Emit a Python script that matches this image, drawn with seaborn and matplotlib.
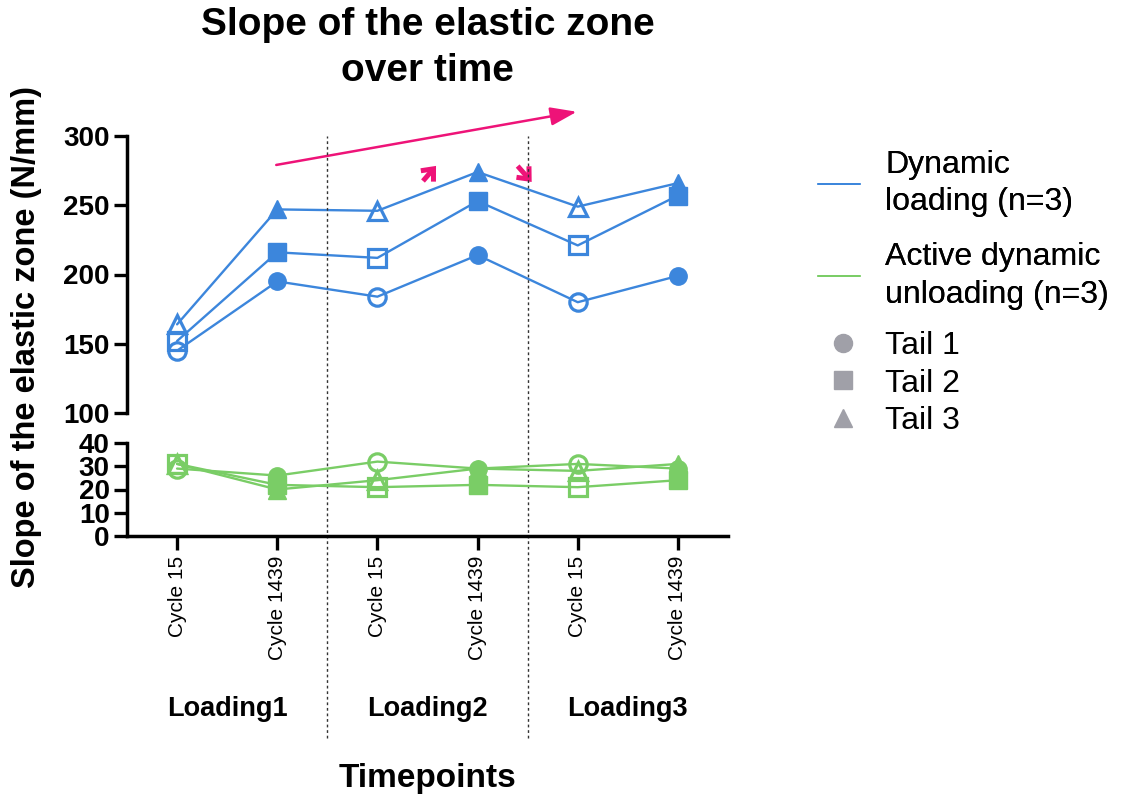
import numpy as np
import pandas as pd
import matplotlib
matplotlib.use("Agg")
import matplotlib.pyplot as plt
from matplotlib.lines import Line2D
from matplotlib.transforms import blended_transform_factory
import seaborn as sns

# ---- data -------------------------------------------------------------
timepoints = ["Cycle 15", "Cycle 1439", "Cycle 15", "Cycle 1439", "Cycle 15", "Cycle 1439"]
groups = ["Loading1", "Loading2", "Loading3"]
tails = ["Tail 1", "Tail 2", "Tail 3"]

# Dynamic loading (n=3), N/mm
dyn_tail1 = [145, 195, 184, 214, 180, 199]
dyn_tail2 = [152, 216, 212, 253, 221, 257]
dyn_tail3 = [164, 247, 246, 274, 249, 266]

# Active dynamic unloading (n=3), N/mm
act_tail1 = [29, 26, 32, 29, 31, 29]
act_tail2 = [31, 22, 21, 22, 21, 24]
act_tail3 = [31, 20, 24, 29, 28, 31]

# Cycle 15 points are drawn hollow, Cycle 1439 points filled
filled = [False, True, False, True, False, True]

BLUE = "#3C86DC"
GREEN = "#7ACD66"
PINK = "#EE1378"
GREY = "#A0A0A8"
MARKERS = {"Tail 1": "o", "Tail 2": "s", "Tail 3": "^"}


def long_frame(series):
    rows = []
    for tail, vals in zip(tails, series):
        for i, v in enumerate(vals):
            rows.append({"idx": i, "value": v, "tail": tail, "filled": filled[i]})
    return pd.DataFrame(rows)


df_dyn = long_frame([dyn_tail1, dyn_tail2, dyn_tail3])
df_act = long_frame([act_tail1, act_tail2, act_tail3])

# ---- style ------------------------------------------------------------
sns.set_theme(style="ticks")
plt.rcParams["font.family"] = ["Liberation Sans", "DejaVu Sans"]
for key in ("axes.edgecolor", "xtick.color", "ytick.color", "text.color",
            "axes.labelcolor", "xtick.labelcolor", "ytick.labelcolor"):
    plt.rcParams[key] = "black"

fig = plt.figure(figsize=(11.23, 7.98), dpi=100)
W, H = 1123, 798


def fx(px):
    return px / W


def fy(py):
    return 1 - py / H


ax_up = fig.add_axes([fx(127), fy(413), fx(728) - fx(127), fy(136) - fy(413)])
ax_lo = fig.add_axes([fx(127), fy(536), fx(728) - fx(127), fy(443) - fy(536)])


def draw_series(ax, df, color):
    sns.lineplot(data=df, x="idx", y="value", units="tail", estimator=None,
                 color=color, lw=1.7, ax=ax, legend=False)
    for tail in tails:
        for is_filled in (True, False):
            sub = df[(df["tail"] == tail) & (df["filled"] == is_filled)]
            sns.lineplot(data=sub, x="idx", y="value", estimator=None,
                         linestyle="", marker=MARKERS[tail], markersize=12.5,
                         markerfacecolor=color if is_filled else "none",
                         markeredgecolor=color,
                         markeredgewidth=1.0 if is_filled else 2.3,
                         ax=ax, legend=False, zorder=3)


draw_series(ax_up, df_dyn, BLUE)
draw_series(ax_lo, df_act, GREEN)

for ax in (ax_up, ax_lo):
    ax.set_xlim(-0.5, 5.5)
    ax.set_xlabel("")
    ax.set_ylabel("")
    for s in ("top", "right"):
        ax.spines[s].set_visible(False)
    for s in ("left", "bottom"):
        ax.spines[s].set_linewidth(2.5)
    ax.tick_params(axis="y", length=9.5, width=2.4, pad=3, labelsize=20)

ax_up.set_ylim(100, 300)
ax_up.set_yticks([100, 150, 200, 250, 300])
ax_up.spines["bottom"].set_visible(False)
ax_up.tick_params(axis="x", bottom=False, labelbottom=False)

ax_lo.set_ylim(0, 40)
ax_lo.set_yticks([0, 10, 20, 30, 40])
ax_lo.set_xticks(range(len(timepoints)))
ax_lo.set_xticklabels(timepoints, rotation=90, fontsize=15)
ax_lo.tick_params(axis="x", length=10, width=2.4, pad=4)

for ax in (ax_up, ax_lo):
    for lab in ax.get_yticklabels():
        lab.set_fontweight("bold")

# dotted separators between loading blocks
for xb in (1.5, 3.5):
    ax_lo.axvline(xb, ymin=(536 - 738) / 93, ymax=(536 - 136) / 93, clip_on=False,
                  color="#333333", lw=1.0, linestyle=(0, (2, 2)), zorder=0)

# loading group labels under each pair of timepoints
group_tr = blended_transform_factory(ax_lo.transData, fig.transFigure)
for gi, g in enumerate(groups):
    ax_lo.text(2 * gi + 0.5, fy(709), g, transform=group_tr,
               ha="center", va="center", fontsize=19.5, fontweight="bold")

fig.text(fx(427.5), fy(778), "Timepoints", ha="center", va="center",
         fontsize=24, fontweight="bold")
fig.text(fx(27), fy(337), "Slope of the elastic zone (N/mm)", rotation=90,
         ha="center", va="center", fontsize=23.5, fontweight="bold")
fig.text(fx(427.5), fy(48), "Slope of the elastic zone\nover time", ha="center",
         va="center", fontsize=28, fontweight="bold", linespacing=1.33)

# trend arrows
ax_up.annotate("", xy=(3.99, 317.5), xytext=(0.99, 279.1), annotation_clip=False,
               arrowprops=dict(arrowstyle="-|>,head_length=0.8,head_width=0.28",
                               lw=1.8, color=PINK, mutation_scale=20,
                               shrinkA=0, shrinkB=0))
ax_up.annotate("", xy=(2.585, 278.4), xytext=(2.455, 267.5), annotation_clip=False,
               arrowprops=dict(arrowstyle="->,head_length=0.35,head_width=0.3",
                               lw=3.6, color=PINK, mutation_scale=20,
                               shrinkA=0, shrinkB=0, joinstyle="miter",
                               capstyle="butt"))
ax_up.annotate("", xy=(3.54, 266.8), xytext=(3.40, 278.3), annotation_clip=False,
               arrowprops=dict(arrowstyle="->,head_length=0.35,head_width=0.3",
                               lw=3.6, color=PINK, mutation_scale=20,
                               shrinkA=0, shrinkB=0, joinstyle="miter",
                               capstyle="butt"))

# legends
line_handles = [Line2D([], [], color=BLUE, lw=1.3), Line2D([], [], color=GREEN, lw=1.3)]
line_labels = ["Dynamic\nloading (n=3)", "Active dynamic\nunloading (n=3)"]
leg1 = fig.legend(line_handles, line_labels, loc="upper left",
                  bbox_to_anchor=(fx(818), fy(150)), frameon=False, fontsize=23,
                  borderpad=0, borderaxespad=0, handlelength=1.3,
                  handletextpad=0.8, labelspacing=0.78)
for t in leg1.get_texts():
    t.set_linespacing(1.32)

mark_handles = [Line2D([], [], linestyle="", marker=MARKERS[t], markersize=13,
                       color=GREY, markeredgecolor=GREY) for t in tails]
leg2 = fig.legend(mark_handles, tails, loc="upper left",
                  bbox_to_anchor=(fx(822), fy(331)), frameon=False, fontsize=23,
                  borderpad=0, borderaxespad=0, handlelength=1.3,
                  handletextpad=0.68, labelspacing=0.24)
fig.add_artist(leg1)

fig.savefig("out.png", dpi=100)
